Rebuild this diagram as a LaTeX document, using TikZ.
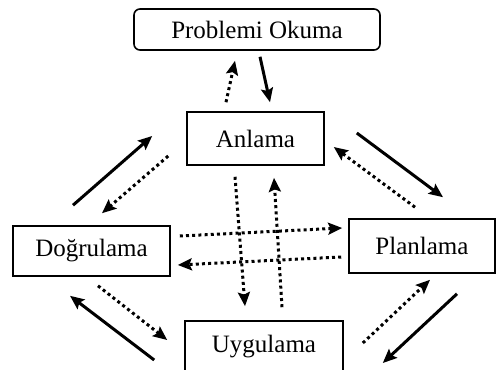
\documentclass[tikz,border=0pt]{standalone}
\usepackage{fontspec}
\setmainfont{Liberation Serif}
\usetikzlibrary{arrows.meta, positioning}
\tikzset{
	stage/.style={draw, thick, rectangle, inner sep=0pt, font=\fontsize{12.5}{15}\selectfont},
	start/.style={stage, rounded corners=3pt}
}

\begin{document}
\begin{tikzpicture}[
	x=0.5pt, y=-0.5pt,
	go/.style={line width=1.5pt, -{Stealth[length=7pt,width=6pt,inset=1.2pt]}},
	back/.style={line width=1.5pt, dash pattern=on 1.5pt off 1.6pt, -{Stealth[length=7pt,width=6pt,inset=1.2pt]}}]
	\useasboundingbox (0,0) rectangle (496,369);
	\node[start, minimum width=123pt, minimum height=20.5pt] (oku) at (257,29.5) {Problemi Okuma};
	\node[stage, minimum width=68.5pt, minimum height=26.5pt] (anl) at (255.5,138.5) {Anlama};
	\node[stage, minimum width=78.5pt, minimum height=25pt] (dog) at (91.5,251) {Do\u{g}rulama};
	\node[stage, minimum width=73pt, minimum height=27pt] (pla) at (422,246) {Planlama};
	\node[stage, minimum width=79pt, minimum height=26pt] (uyg) at (264,347) {Uygulama};
	% okuma <-> anlama
	\draw[go] ([shift={(3,6)}]oku.south) -- ([shift={(14.5,-9)}]anl.north);
	\draw[back] ([shift={(-29.5,-9)}]anl.north) -- ([shift={(-22,10)}]oku.south);
	% anlama <-> dogrulama
	\draw[go] ([shift={(-18.5,-20)}]dog.north) -- ([shift={(-34,-2.5)}]anl.west);
	\draw[back] ([shift={(-18,17.5)}]anl.west) -- ([shift={(10.5,-12)}]dog.north);
	% anlama <-> planlama
	\draw[go] ([shift={(32,-5.5)}]anl.east) -- ([shift={(21,-21)}]pla.north);
	\draw[back] ([shift={(-7,-11)}]pla.north) -- ([shift={(9,8.5)}]anl.east);
	% dogrulama <-> planlama
	\draw[back] ([shift={(9,-15)}]dog.east) -- ([shift={(-6,-18)}]pla.west);
	\draw[back] ([shift={(-7,11)}]pla.west) -- ([shift={(7,14)}]dog.east);
	% anlama <-> uygulama
	\draw[back] ([shift={(-20.5,11)}]anl.south) -- ([shift={(-19,-14)}]uyg.north);
	\draw[back] ([shift={(18,-13)}]uyg.north) -- ([shift={(18.5,12)}]anl.south);
	% dogrulama <-> uygulama
	\draw[back] ([shift={(6.5,9)}]dog.south) -- ([shift={(-17,-7)}]uyg.west);
	\draw[go] ([shift={(-30,13)}]uyg.west) -- ([shift={(-21.5,19)}]dog.south);
	% planlama <-> uygulama
	\draw[back] ([shift={(19,-4)}]uyg.east) -- ([shift={(8,6)}]pla.south);
	\draw[go] ([shift={(35,20)}]pla.south) -- ([shift={(39,16)}]uyg.east);
\end{tikzpicture}
\end{document}
